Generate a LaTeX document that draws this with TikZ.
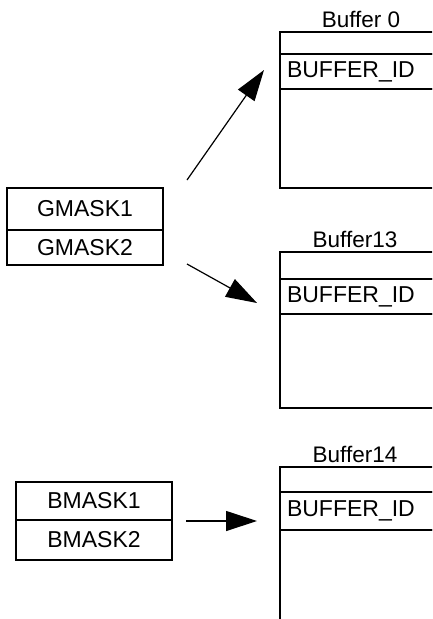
\documentclass[tikz,border=0pt]{standalone}
\usepackage{fontspec}
\setmainfont{Liberation Sans}
\usetikzlibrary{arrows.meta,positioning}

\begin{document}
\begin{tikzpicture}[
  x=1pt, y=-1pt,
  field/.style={draw, line width=2pt, outer sep=0pt, inner sep=0pt,
    minimum width=170pt, anchor=north west},
  idfield/.style={field, minimum height=35pt, text width=156pt, inner xsep=7pt, align=left,
    font=\fontsize{23}{27}\selectfont},
  maskfield/.style={draw, line width=2pt, outer sep=0pt, inner sep=0pt,
    minimum width=156pt, font=\fontsize{23}{27}\selectfont},
  buflabel/.style={anchor=base, inner sep=0pt, font=\fontsize{22.5}{26}\selectfont},
  >={Triangle[length=31pt,width=20pt]}
]
\path[use as bounding box, clip] (0,0) rectangle (432,619);

% buffers
\node[field, minimum height=22pt] (buf0top) at (280,32) {};
\node[idfield, below=0pt of buf0top.south west, anchor=north west] (buf0id) {BUFFER\_ID};
\node[field, minimum height=99pt, below=0pt of buf0id.south west, anchor=north west] (buf0rest) {};
\node[buflabel] (buf0name) at (361,27) {Buffer 0};

\node[field, minimum height=27pt] (buf13top) at (280,252) {};
\node[idfield, below=0pt of buf13top.south west, anchor=north west] (buf13id) {BUFFER\_ID};
\node[field, minimum height=94pt, below=0pt of buf13id.south west, anchor=north west] (buf13rest) {};
\node[buflabel] (buf13name) at (355,247) {Buffer13};

\node[field, minimum height=25pt] (buf14top) at (280,467) {};
\node[idfield, minimum height=38pt, below=0pt of buf14top.south west, anchor=north west] (buf14id) {BUFFER\_ID};
\node[field, minimum height=100pt, below=0pt of buf14id.south west, anchor=north west] (buf14rest) {};
\node[buflabel] (buf14name) at (355,462) {Buffer14};

% masks
\node[maskfield, minimum height=42pt] (gmask1) at (85,209) {GMASK1};
\node[maskfield, minimum height=35pt, below=0pt of gmask1] (gmask2) {GMASK2};
\node[maskfield, minimum height=38pt] (bmask1) at (94,501) {BMASK1};
\node[maskfield, minimum height=40pt, below=0pt of bmask1] (bmask2) {BMASK2};

% arrows
\coordinate (up0) at (187,180);
\coordinate (up1) at (264,70);
\coordinate (dn0) at (187,264);
\coordinate (dn1) at (257,303);
\coordinate (bm0) at (186,521);
\coordinate (bm1) at (257,521);
\draw[->, line width=1.2pt] (up0) -- (up1);
\draw[->, line width=1.2pt] (dn0) -- (dn1);
\draw[->, line width=1.2pt] (bm0) -- (bm1);
\end{tikzpicture}
\end{document}
